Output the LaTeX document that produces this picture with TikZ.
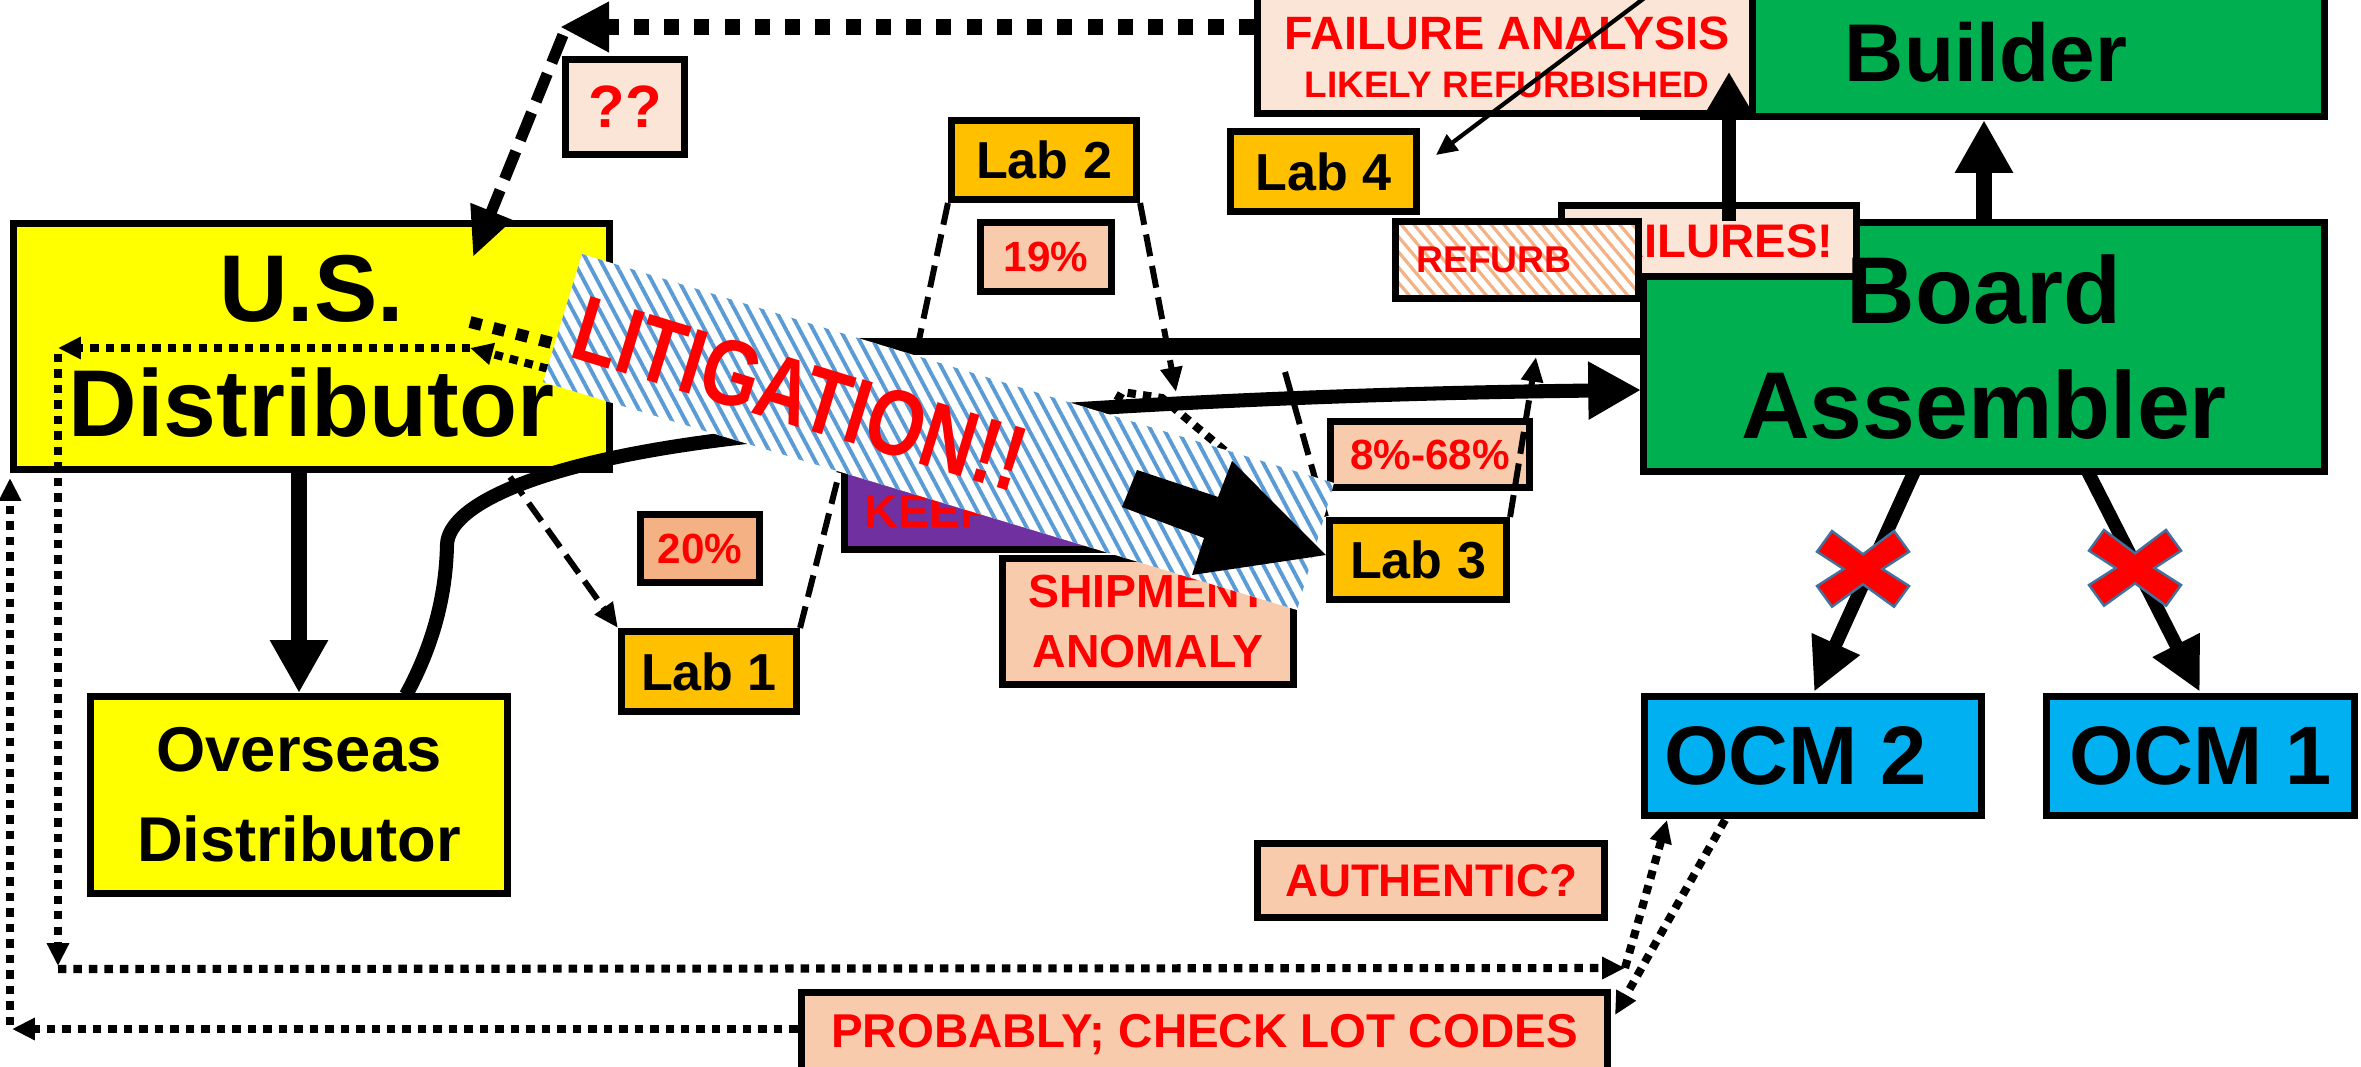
\documentclass[tikz,border=0pt]{standalone}
\usepackage{fontspec}
\setmainfont{Liberation Sans}
\usepackage{graphicx}
\usetikzlibrary{arrows.meta,patterns.meta,calc}
\definecolor{cyel}{HTML}{FFFF00}
\definecolor{cgreen}{HTML}{00B050}
\definecolor{ccyan}{HTML}{00B0F0}
\definecolor{corange}{HTML}{FFC000}
\definecolor{cpeach}{HTML}{F8CBAD}
\definecolor{clpeach}{HTML}{FBE5D6}
\definecolor{cptw}{HTML}{F4B183}
\definecolor{cpurple}{HTML}{7030A0}
\definecolor{cred}{HTML}{FF0000}
\definecolor{cstripeb}{HTML}{5B9BD5}
\definecolor{cstripeo}{HTML}{F4B183}
\definecolor{cxo}{HTML}{41719C}
\newcommand\fsz[2]{\fontsize{#1pt}{#2pt}\selectfont\bfseries}
\newcommand\redcross[2]{\draw[fill=cred, draw=cxo, line width=0.7pt, shift={(#1,#2)}] (-31,-38) -- (0,-14.7) -- (31,-38) -- (46,-17.3) -- (19.4,0) -- (46,17) -- (31,37.7) -- (0,15.3) -- (-31,37.7) -- (-46,17) -- (-19.3,0) -- (-46,-17.3) -- cycle;}
\tikzset{
  box/.style={draw=black, line width=2pt, inner sep=0pt, align=center},
  txt/.style={inner sep=0pt, align=center},
  thickarrow/.style={line width=4.3pt, -{Triangle[length=15pt,width=15.5pt]}},
  dashthick/.style={line width=4.3pt, dash pattern=on 4.3pt off 4.3pt, -{Triangle[length=14pt,width=13.5pt]}},
  dashdiag/.style={line width=3.2pt, dash pattern=on 8.5pt off 3.4pt, -{Triangle[length=14pt,width=12pt]}},
  labdash/.style={line width=1.7pt, dash pattern=on 6.3pt off 2.8pt},
  labtip/.style={-{Triangle[length=7pt,width=6pt]}},
  dotchain/.style={line width=2.3pt, dash pattern=on 2.4pt off 2pt},
  dottip/.style={-{Triangle[length=6.5pt,width=6pt]}},
  labbox/.style={box, fill=corange, font={\fsz{14.8}{17}}, minimum width=1.8cm, minimum height=0.79cm},
  pctbox/.style={box, fill=cpeach, text=cred, font={\fsz{12}{14}}},
}
\begin{document}
\begin{tikzpicture}[x=0.01cm, y=-0.01cm]
\useasboundingbox (0,0) rectangle (2361,1067);
\clip (0,0) rectangle (2361,1067);
\fill[white] (0,0) rectangle (2361,1067);

% ---- top right
\node[box, fill=cgreen, minimum width=6.81cm, minimum height=1.53cm] (builder) at (1984,40) {};
\node[box, fill=clpeach, minimum width=4.95cm, minimum height=1.43cm] (fa) at (1505,42) {};
\node[txt, font={\fsz{23.3}{28}}] (buildertext) at (1986,52) {Builder};
\node[txt, text=cred, font={\fsz{13.3}{16}}] (fat1) at (1507,33) {FAILURE ANALYSIS};
\node[txt, text=cred, font={\fsz{10.5}{13}}] (fat2) at (1507,85) {LIKELY REFURBISHED};

\node[box, fill=cgreen, minimum width=6.81cm, minimum height=2.49cm] (ba) at (1984,347) {};
\node[box, fill=clpeach, text=cred, font={\fsz{13.4}{16}}, minimum width=2.95cm, minimum height=0.71cm] (fail) at (1709,241) {FAILURES!};
\node[box, preaction={fill=white}, pattern={Lines[angle=-50,distance=2.8pt,line width=0.9pt]}, pattern color=cstripeo, minimum width=2.43cm, minimum height=0.77cm] (refurb) at (1517,260) {};
\node[txt, text=cred, font={\fsz{10.6}{13}}] (refurbtext) at (1494,260) {REFURB};
\node[txt, font={\fsz{27}{32.7}}] (batext) at (1984,347) {Board\\Assembler};

\node[labbox, minimum width=1.86cm] (lab4) at (1323.5,171.5) {Lab 4};
\node[box, fill=clpeach, text=cred, font={\fsz{17}{20}}, minimum width=1.19cm, minimum height=0.95cm] (qq) at (625,107) {??};
\node[labbox, minimum width=1.85cm] (lab2) at (1044,160) {Lab 2};
\node[pctbox, minimum width=1.31cm, minimum height=0.69cm] (p19) at (1046,257) {19\%};

% ---- left / middle
\node[box, fill=cyel, font={\fsz{27}{32.7}}, minimum width=5.96cm, minimum height=2.46cm] (us) at (311.5,346.5) {U.S.\\Distributor};
\node[box, fill=cyel, font={\fsz{18}{25.5}}, minimum width=4.17cm, minimum height=1.97cm] (ovs) at (299,795) {Overseas\\Distributor};
\node[labbox, minimum width=1.75cm, minimum height=0.80cm] (lab1) at (709,671.5) {Lab 1};
\node[pctbox, fill=cptw, minimum width=1.19cm, minimum height=0.68cm] (p20) at (700,548.5) {20\%};
\node[box, fill=cpurple, minimum width=2.92cm, minimum height=0.81cm] (keep) at (990.5,509) {};
\node[txt, anchor=west, text=cred, font={\fsz{13.2}{16}}] (keeptext) at (864,512) {KEEP};
\node[box, fill=cpeach, text=cred, font={\fsz{13.2}{16.8}}, minimum width=2.91cm, minimum height=1.26cm] (ship) at (1148,621.5) {SHIPMENT\\ANOMALY};
\node[labbox, minimum width=1.77cm] (lab3) at (1418,560) {Lab 3};
\node[pctbox, minimum width=1.99cm, minimum height=0.66cm] (p868) at (1430,454.5) {8\%-68\%};

% ---- bottom right
\node[box, fill=ccyan, font={\fsz{23.6}{28}}, minimum width=3.37cm, minimum height=1.19cm] (ocm2) at (1813,756) {OCM 2\kern10pt};
\node[box, fill=ccyan, font={\fsz{23.6}{28}}, minimum width=3.08cm, minimum height=1.19cm] (ocm1) at (2200.5,756) {OCM 1};
\node[box, fill=cpeach, text=cred, font={\fsz{13}{16}}, minimum width=3.47cm, minimum height=0.74cm] (auth) at (1431,880.5) {AUTHENTIC?};
\node[box, fill=cpeach, text=cred, font={\fsz{13.5}{16}}, minimum width=8.06cm, minimum height=0.84cm] (prob) at (1204.5,1034.5) {PROBABLY; CHECK LOT CODES};

% ---- coordinates
\coordinate (faIn) at (1729,72);
\coordinate (failTop) at (1729,221);
\coordinate (thinSrc) at (1655,-10);
\coordinate (lab4in) at (1436,155);
\coordinate (qBend) at (560,27);
\coordinate (usIn) at (473,257);
\coordinate (l2a) at (919,340);
\coordinate (l2b) at (1176,392);
\coordinate (l3a) at (1285,372);
\coordinate (l3b) at (1536,357);
\coordinate (usOut) at (510,477);
\coordinate (keepIn) at (840,470);
\coordinate (cStart) at (406,695);
\coordinate (cMid) at (447,545);
\coordinate (cMid2) at (746,437);
\coordinate (cEnd) at (1641,390);
\coordinate (ba1) at (1914,472);
\coordinate (oc2in) at (1814,692);
\coordinate (ba2) at (2088,472);
\coordinate (oc1in) at (2200,692);
\coordinate (d1) at (470,348);
\coordinate (d2) at (58,348);
\coordinate (d3) at (58,966);
\coordinate (d4) at (1625,968);
\coordinate (oc2a) at (1667,820);
\coordinate (oc2b) at (1725,820);
\coordinate (probIn) at (1615,1015);
\coordinate (e1) at (12,1029);
\coordinate (usBL) at (10,478);
\coordinate (u1) at (470,322);
\coordinate (u2) at (548,342);
\coordinate (u3) at (880,430);
\coordinate (l3c) at (1300,505);

% ---- connectors (top right)
\draw[line width=4pt, -{Triangle[length=12pt,width=13pt]}] (failTop) -- (faIn);
\draw[thickarrow] (ba.north) -- (builder.south);
\draw[line width=1.2pt, -{Triangle[length=6pt,width=5.5pt]}] (thinSrc) -- (lab4in);

% ---- dashed connectors
\draw[dashthick] (fa.west |- qBend) -- (qBend);
\draw[dashdiag] ($(qBend)+(3,8)$) -- (usIn);
\draw[labdash] (lab2.south west) -- (l2a);
\draw[labdash, labtip] (lab2.south east) -- (l2b);
\draw[labdash] (l3a) -- (lab3.north west);
\draw[labdash, labtip] (lab3.north east) -- (l3b);
\draw[labdash, labtip] (usOut) -- (lab1.north west);
\draw[labdash] (lab1.north east) -- (keepIn);

% ---- dotted connectors
\draw[line width=3.4pt, dash pattern=on 3.4pt off 3.4pt] (u1) -- (u2) -- (u3);
\draw[dotchain, dottip] (l3c) -- (1230,455) -- (1162,398) -- (1122,392) -- (1112,410) -- (1000,425) -- (545,368) -- (d1);
\draw[dotchain, dottip] (d1) -- (d2);
\draw[dotchain, dottip] ($(d2)+(0,6)$) -- (d3);
\draw[dotchain, dottip] ($(d3)+(0,3)$) -- (d4);
\draw[dotchain, dottip] (d4) -- (oc2a);
\draw[dotchain, dottip] (oc2b) -- (probIn);
\draw[dotchain, dottip] (prob.west |- e1) -- (e1);
\draw[dotchain, dottip] ($(e1)+(-2,-4)$) -- (usBL);

% ---- thick connectors
\draw[line width=5pt] (us.east) -- (us.east -| ba.west);
\draw[thickarrow] (ovs.north |- us.south) -- (ovs.north);
\draw[line width=4pt, -{Triangle[length=15pt,width=15.5pt]}] (cStart) .. controls (436,640) and (446,590) .. (cMid) .. controls (448,505) and (540,460) .. (cMid2) .. controls (900,420) and (1200,395) .. (cEnd);
\draw[line width=3.8pt, -{Triangle[length=15pt,width=14pt]}] (ba1) -- (oc2in);
\draw[line width=3.8pt, -{Triangle[length=15pt,width=14pt]}] (ba2) -- (oc1in);

% ---- litigation banner
\path[preaction={fill=white}, pattern={Lines[angle=-62,distance=3.4pt,line width=1.1pt]}, pattern color=cstripeb] (582,254) -- (1334,483) -- (1297,610) -- (543,382) -- cycle;
\node[txt, rotate=-17, text=cred, font={\fsz{26.5}{26.5}}] (lit) at (800,394) {\scalebox{0.8}[1]{LITIGATION!!}};

% ---- black block arrow to Lab 3
\fill[black] (1137,470) -- (1218,497) -- (1232,461) -- (lab3.west |- 0,555) -- (1192,575) -- (1204,538) -- (1122,507) -- cycle;

% ---- red crosses
\redcross{1863}{569}
\redcross{2135}{568}
\end{tikzpicture}
\end{document}
